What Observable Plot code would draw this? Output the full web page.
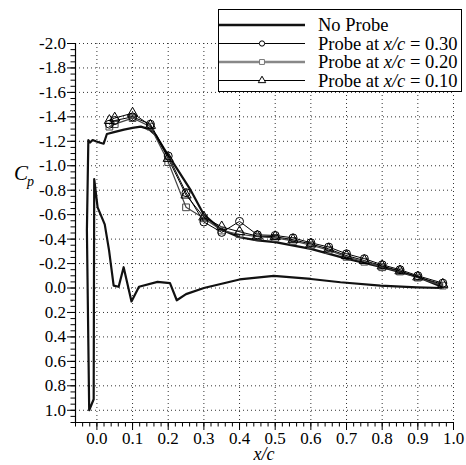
<!DOCTYPE html>
<html>
<head>
<meta charset="utf-8">
<script src="https://cdn.jsdelivr.net/npm/d3@7"></script>
<script src="https://cdn.jsdelivr.net/npm/@observablehq/plot@0.6"></script>
<style>
  html, body { margin: 0; padding: 0; background: #fff; }
  #chart { position: relative; width: 466px; height: 465px; }
</style>
</head>
<body>
<div id="chart"></div>
<script>
// ---- data ----
const noProbeX = [0.967, 0.90, 0.80, 0.70, 0.60, 0.50, 0.45, 0.40, 0.347, 0.30, 0.263, 0.215, 0.188, 0.165, 0.146, 0.123, 0.10, 0.076, 0.048, 0.028, 0.019, 0.007, -0.003, -0.012, -0.019, -0.024, -0.028, -0.0216, -0.009, -0.0075, 0.002, 0.022, 0.034, 0.047, 0.061, 0.075, 0.097, 0.118, 0.17, 0.205, 0.224, 0.25, 0.30, 0.40, 0.496, 0.60, 0.683, 0.795, 0.897, 0.967];
const noProbeCp = [-0.01, -0.09, -0.17, -0.24, -0.32, -0.375, -0.39, -0.415, -0.48, -0.60, -0.80, -1.02, -1.14, -1.25, -1.30, -1.32, -1.31, -1.296, -1.275, -1.26, -1.18, -1.19, -1.20, -1.21, -1.19, -1.21, -0.47, 1.0, 0.91, -0.89, -0.66, -0.52, -0.31, -0.02, -0.01, -0.17, 0.11, -0.01, -0.05, -0.04, 0.10, 0.05, 0.0, -0.07, -0.10, -0.074, -0.047, -0.02, -0.006, 0.0];

const probeX = [0.035, 0.05, 0.10, 0.15, 0.20, 0.25, 0.30, 0.35, 0.40, 0.45, 0.50, 0.55, 0.60, 0.65, 0.70, 0.75, 0.80, 0.85, 0.90, 0.97];
const probe30Cp = [-1.34, -1.37, -1.40, -1.34, -1.08, -0.78, -0.54, -0.455, -0.545, -0.435, -0.43, -0.41, -0.37, -0.335, -0.28, -0.24, -0.19, -0.15, -0.10, -0.04];
const probe20Cp = [-1.32, -1.34, -1.39, -1.32, -1.03, -0.66, -0.57, -0.47, -0.44, -0.42, -0.41, -0.385, -0.35, -0.31, -0.255, -0.215, -0.17, -0.135, -0.085, -0.02];
const probe10Cp = [-1.37, -1.39, -1.43, -1.33, -1.06, -0.76, -0.58, -0.50, -0.46, -0.425, -0.42, -0.395, -0.36, -0.32, -0.265, -0.225, -0.18, -0.14, -0.09, -0.03];

const seriesNames = ["No Probe", "Probe at x/c = 0.30", "Probe at x/c = 0.20", "Probe at x/c = 0.10"];

const xDomain = [-0.06, 1.0];
const yDomain = [1.1, -2.0];
const xMajor = [0.0, 0.1, 0.2, 0.3, 0.4, 0.5, 0.6, 0.7, 0.8, 0.9, 1.0];
const yMajor = [-2.0, -1.8, -1.6, -1.4, -1.2, -1.0, -0.8, -0.6, -0.4, -0.2, 0.0, 0.2, 0.4, 0.6, 0.8, 1.0];
const xMinor = d3.range(0, 54).map(i => +(-0.06 + i * 0.02).toFixed(2));
const yMinor = d3.range(0, 63).map(i => +(-2.0 + i * 0.05).toFixed(2));

// ---- build tables ----
const noProbe = noProbeX.map((x, i) => ({x, y: noProbeCp[i]}));
const mk = arr => probeX.map((x, i) => ({x, y: arr[i]}));
const p30 = mk(probe30Cp), p20 = mk(probe20Cp), p10 = mk(probe10Cp);

const fmt = d => (Math.abs(d) < 1e-9 ? 0 : d).toFixed(1);
const grid = {stroke: "#333", strokeOpacity: 1, strokeWidth: 1, strokeDasharray: "1,3"};
const serif = "'Liberation Serif', 'Times New Roman', serif";

const svg = Plot.plot({
  width: 466,
  height: 465,
  marginLeft: 75,
  marginRight: 13,
  marginTop: 43,
  marginBottom: 43,
  style: {fontFamily: serif, fontSize: "17px", color: "#000", background: "#fff"},
  x: {domain: xDomain, label: null},
  y: {domain: yDomain, label: null},
  marks: [
    Plot.gridX(xMajor, grid),
    Plot.gridY(yMajor, grid),
    Plot.axisY(yMinor, {tickSize: 4.5, tickFormat: () => "", stroke: "#000"}),
    Plot.axisY(yMajor, {tickSize: 8, tickPadding: 1.5, tickFormat: fmt, stroke: "#000", fill: "#000", fontSize: 17, fontFamily: serif}),
    Plot.axisX(xMinor, {tickSize: 4.5, tickFormat: () => "", stroke: "#000"}),
    Plot.axisX(xMajor, {tickSize: 8, tickPadding: 1, tickFormat: fmt, stroke: "#000", fill: "#000", fontSize: 17, fontFamily: serif}),
    Plot.ruleX([xDomain[0]], {stroke: "#000", strokeWidth: 1.2}),
    Plot.ruleY([yDomain[0]], {stroke: "#000", strokeWidth: 1.2}),
    Plot.line(noProbe, {x: "x", y: "y", stroke: "#111", strokeWidth: 2.2}),
    Plot.line(p20, {x: "x", y: "y", stroke: "#444", strokeWidth: 1.2}),
    Plot.line(p30, {x: "x", y: "y", stroke: "#000", strokeWidth: 1}),
    Plot.line(p10, {x: "x", y: "y", stroke: "#000", strokeWidth: 1}),
    Plot.dot(p20, {x: "x", y: "y", symbol: "square", r: 3.8, stroke: "#444", fill: "none", strokeWidth: 1}),
    Plot.dot(p30, {x: "x", y: "y", symbol: "circle", r: 4, stroke: "#000", fill: "none", strokeWidth: 1}),
    Plot.dot(p10, {x: "x", y: "y", symbol: "triangle", r: 3.8, stroke: "#000", fill: "none", strokeWidth: 1})
  ]
});
document.getElementById("chart").appendChild(svg);

// ---- axis titles and legend ----
const s = d3.select(svg);

const cp = s.append("text").attr("x", 14).attr("y", 180).attr("text-anchor", "start")
  .attr("font-family", serif).attr("font-style", "italic").attr("fill", "#000");
cp.append("tspan").attr("font-size", 21).text("C");
cp.append("tspan").attr("font-size", 14).attr("dy", 6).attr("dx", -1).text("p");

s.append("text").attr("x", 264).attr("y", 460).attr("text-anchor", "middle")
  .attr("font-family", serif).attr("font-style", "italic").attr("font-size", 18).attr("fill", "#000").text("x/c");

const lg = s.append("g").attr("text-anchor", "start");
lg.append("rect").attr("x", 218.5).attr("y", 9.5).attr("width", 243).attr("height", 82)
  .attr("fill", "#fff").attr("stroke", "#000").attr("stroke-width", 1);
const rowsY = [25, 43.5, 62, 80.5];
const styles = [
  {stroke: "#111", w: 2.4, sym: null},
  {stroke: "#000", w: 1, sym: d3.symbolCircle, size: 22},
  {stroke: "#888", w: 2.4, sym: d3.symbolSquare, size: 24},
  {stroke: "#000", w: 1, sym: d3.symbolTriangle, size: 24}
];
seriesNames.forEach((name, i) => {
  const y = rowsY[i], st = styles[i];
  lg.append("line").attr("x1", 219).attr("x2", 305).attr("y1", y).attr("y2", y)
    .attr("stroke", st.stroke).attr("stroke-width", st.w);
  if (st.sym) {
    lg.append("path").attr("d", d3.symbol(st.sym, st.size)()).attr("transform", `translate(262,${y})`)
      .attr("fill", "#fff").attr("stroke", st.stroke === "#888" ? "#777" : "#000").attr("stroke-width", 1);
  }
  const t = lg.append("text").attr("x", 318).attr("y", y + 6).attr("text-anchor", "start")
    .attr("font-family", serif).attr("font-size", 18.5).attr("fill", "#000");
  const m = name.match(/^(Probe at )(x\/c)( = .*)$/);
  if (m) {
    t.append("tspan").text(m[1]);
    t.append("tspan").attr("font-style", "italic").text(m[2]);
    t.append("tspan").text(m[3]);
  } else {
    t.text(name);
  }
});
</script>
</body>
</html>
